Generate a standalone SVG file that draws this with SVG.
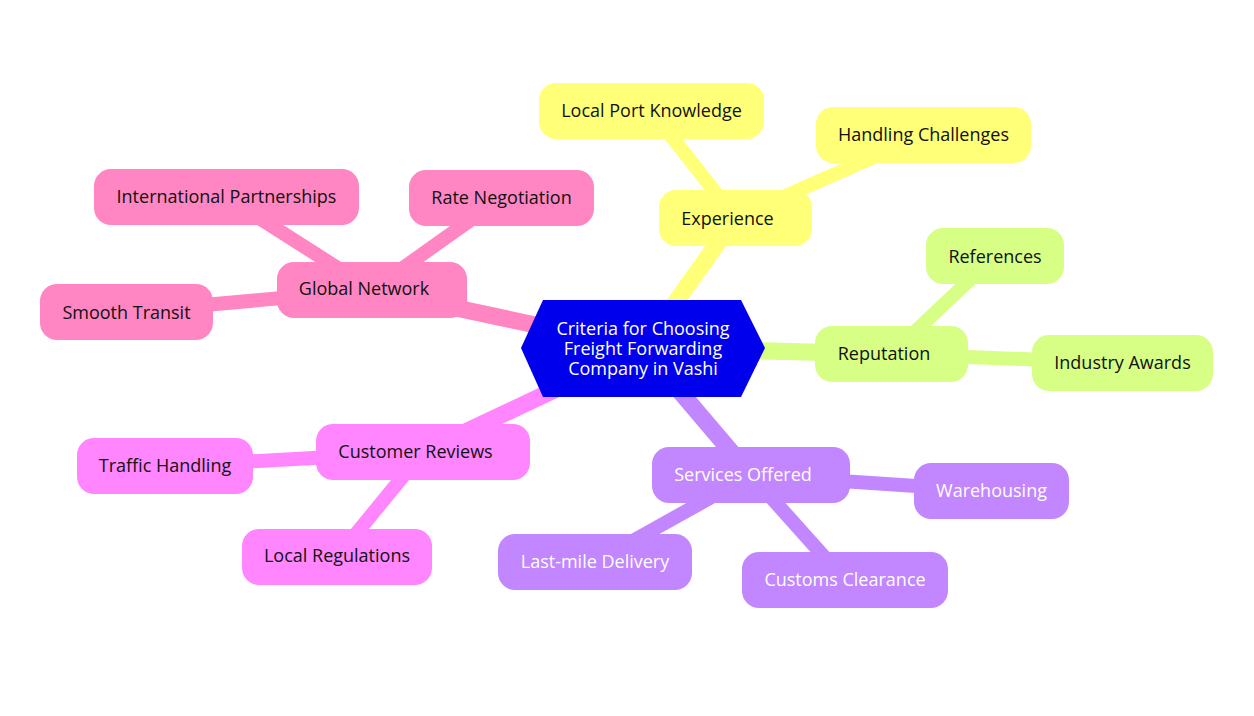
<svg xmlns="http://www.w3.org/2000/svg" width="1254" height="716" viewBox="0 0 1254 716">
<style>
text{font-family:"Open Sans","Noto Sans","Liberation Sans",sans-serif;font-size:18px;text-anchor:middle;fill:#111111}
.w{fill:#ffffff}
.e1{stroke-width:17;fill:none}
.e2{stroke-width:14;fill:none}
.y{fill:#ffff78}.ys{stroke:#ffff78}
.g{fill:#d7ff86}.gs{stroke:#d7ff86}
.p{fill:#c286ff}.ps{stroke:#c286ff}
.m{fill:#ff86ff}.ms{stroke:#ff86ff}
.k{fill:#ff86c2}.ks{stroke:#ff86c2}
</style>
<rect width="1254" height="716" fill="#ffffff"/>
<g id="connectors">
<line class="e1 ys" x1="643" y1="348" x2="735.5" y2="218"/>
<line class="e2 ys" x1="735.5" y1="218" x2="651.5" y2="111"/>
<line class="e2 ys" x1="735.5" y1="218" x2="923.5" y2="135"/>
<line class="e1 gs" x1="643" y1="348" x2="891.5" y2="354"/>
<line class="e2 gs" x1="891.5" y1="354" x2="995" y2="256"/>
<line class="e2 gs" x1="891.5" y1="354" x2="1122.5" y2="363"/>
<line class="e1 ps" x1="643" y1="348" x2="751" y2="475"/>
<line class="e2 ps" x1="751" y1="475" x2="991.5" y2="491"/>
<line class="e2 ps" x1="751" y1="475" x2="845" y2="580"/>
<line class="e2 ps" x1="751" y1="475" x2="595" y2="562"/>
<line class="e1 ms" x1="643" y1="348" x2="423" y2="452"/>
<line class="e2 ms" x1="423" y1="452" x2="165" y2="466"/>
<line class="e2 ms" x1="423" y1="452" x2="337" y2="557"/>
<line class="e1 ks" x1="643" y1="348" x2="372" y2="290"/>
<line class="e2 ks" x1="372" y1="290" x2="226.5" y2="197"/>
<line class="e2 ks" x1="372" y1="290" x2="501.5" y2="198"/>
<line class="e2 ks" x1="372" y1="290" x2="126.5" y2="312"/>
</g>
<g id="root">
<polygon points="521,348 543,300 741,300 765,348 741,397 543,397" fill="#0000ec"/>
<text class="w" x="643" y="335">Criteria for Choosing<tspan x="643" dy="20">Freight Forwarding</tspan><tspan x="643" dy="20">Company in Vashi</tspan></text>
</g>
<g id="experience"><rect class="y" x="659" y="190" width="153" height="56" rx="17"/><text x="727.5" y="224.5">Experience</text></g>
<g id="local-port-knowledge"><rect class="y" x="539" y="83" width="225" height="56" rx="17"/><text x="651.5" y="117">Local Port Knowledge</text></g>
<g id="handling-challenges"><rect class="y" x="816" y="107" width="215" height="56" rx="17"/><text x="923.5" y="141">Handling Challenges</text></g>
<g id="reputation"><rect class="g" x="815" y="326" width="153" height="56" rx="17"/><text x="884" y="360">Reputation</text></g>
<g id="references"><rect class="g" x="926" y="228" width="138" height="56" rx="17"/><text x="995" y="262.5">References</text></g>
<g id="industry-awards"><rect class="g" x="1032" y="335" width="181" height="56" rx="17"/><text x="1122.5" y="369">Industry Awards</text></g>
<g id="services-offered"><rect class="p" x="652" y="447" width="198" height="56" rx="17"/><text class="w" x="743" y="481">Services Offered</text></g>
<g id="warehousing"><rect class="p" x="914" y="463" width="155" height="56" rx="17"/><text class="w" x="991.5" y="497">Warehousing</text></g>
<g id="customs-clearance"><rect class="p" x="742" y="552" width="206" height="56" rx="17"/><text class="w" x="845" y="586">Customs Clearance</text></g>
<g id="last-mile-delivery"><rect class="p" x="498" y="534" width="194" height="56" rx="17"/><text class="w" x="595" y="568">Last-mile Delivery</text></g>
<g id="customer-reviews"><rect class="m" x="316" y="424" width="214" height="56" rx="17"/><text x="415.5" y="458">Customer Reviews</text></g>
<g id="traffic-handling"><rect class="m" x="77" y="438" width="176" height="56" rx="17"/><text x="165" y="472">Traffic Handling</text></g>
<g id="local-regulations"><rect class="m" x="242" y="529" width="190" height="56" rx="17"/><text x="337" y="562">Local Regulations</text></g>
<g id="global-network"><rect class="k" x="277" y="262" width="190" height="56" rx="17"/><text x="364" y="295">Global Network</text></g>
<g id="international-partnerships"><rect class="k" x="94" y="169" width="265" height="56" rx="17"/><text x="226.5" y="203">International Partnerships</text></g>
<g id="rate-negotiation"><rect class="k" x="409" y="170" width="185" height="56" rx="17"/><text x="501.5" y="204">Rate Negotiation</text></g>
<g id="smooth-transit"><rect class="k" x="40" y="284" width="173" height="56" rx="17"/><text x="126.5" y="319">Smooth Transit</text></g>
</svg>
